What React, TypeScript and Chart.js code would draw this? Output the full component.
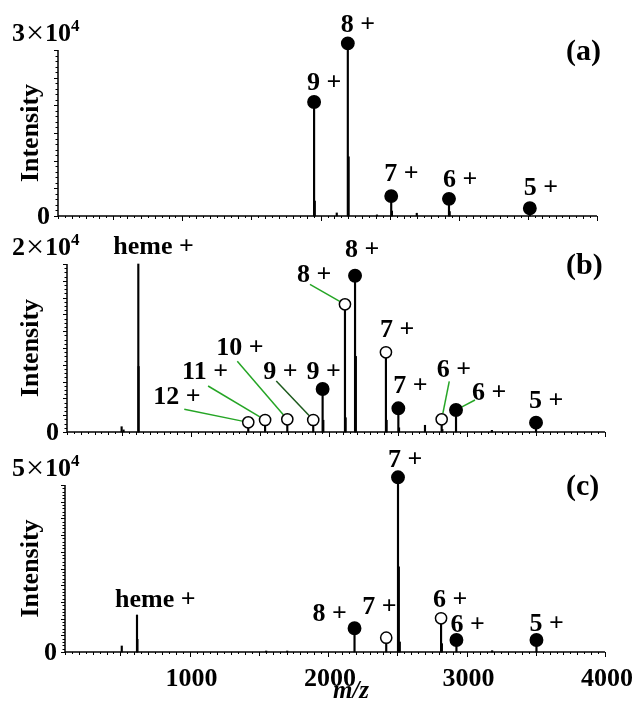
import React, { useEffect, useRef } from 'react';
import { Chart, registerables } from 'chart.js';

Chart.register(...registerables);

const FONT = '"Liberation Serif", "Times New Roman", serif';

// ---------------- Panel (a) data ----------------
const aHoloMz = [1953, 2197, 2511, 2929, 3514];
const aHoloIntensity = [20600, 31200, 3600, 3100, 1400];
const aHoloLabels = ['9 +', '8 +', '7 +', '6 +', '5 +'];
const aMinorMz = [1958, 2117, 2203, 2408, 2516, 2696, 2934];
const aMinorIntensity = [2700, 550, 10700, 200, 900, 500, 800];

// ---------------- Panel (b) data ----------------
const bHoloMz = [1953, 2188, 2502, 2920, 3500];
const bHoloIntensity = [5120, 18600, 2820, 2620, 1110];
const bHoloLabels = ['9 +', '8 +', '7 +', '6 +', '5 +'];
const bApoMz = [1414, 1536, 1697, 1885, 2115, 2412, 2816];
const bApoIntensity = [1150, 1430, 1510, 1430, 15200, 9490, 1510];
const bApoLabels = ['12 +', '11 +', '10 +', '9 +', '8 +', '7 +', '6 +'];
const bHemeMz = 617;
const bHemeIntensity = 20000;
const bMinorMz = [496, 510, 619, 1958, 2120, 2194, 2417, 2507, 2695, 2821, 3180];
const bMinorIntensity = [630, 250, 7800, 1400, 1700, 9000, 1400, 500, 800, 300, 200];

// ---------------- Panel (c) data ----------------
const cHoloMz = [2191, 2505, 2927, 3505];
const cHoloIntensity = [7100, 52300, 3590, 3590];
const cHoloLabels = ['8 +', '7 +', '6 +', '5 +'];
const cApoMz = [2420, 2816];
const cApoIntensity = [4280, 10090];
const cApoLabels = ['7 +', '6 +'];
const cHemeMz = 620;
const cHemeIntensity = 11080;
const cMinorMz = [510, 623, 1553, 1705, 2511, 2518, 2822, 3185];
const cMinorIntensity = [1800, 3800, 300, 300, 25500, 3000, 2500, 400];

// x-axis tick labels (panel c only)
const xTickLabels = [1000, 2000, 3000, 4000];

// ---------------- label layout (pixel offsets from marker to text left/middle) ----------------
const aHoloLayout = [
  { d: [-7, -19] }, { d: [-7, -18] }, { d: [-7, -22] }, { d: [-6, -19] }, { d: [-6, -20] },
];
const bHoloLayout = [
  { d: [-16, -17] }, { d: [-10, -25] }, { d: [-5, -22] }, { d: [16, -17], lead: [19, -10] }, { d: [-7, -21] },
];
const bApoLayout = [
  { d: [-95, -25], lead: [-64, -13] },
  { d: [-83, -48], lead: [-57, -34] },
  { d: [-71, -71], lead: [-50, -58] },
  { d: [-50, -48], lead: [-37, -39], dark: true },
  { d: [-48, -29], lead: [-35, -20] },
  { d: [-6, -22] },
  { d: [-5, -49], lead: [7.6, -38] },
];
const cHoloLayout = [{ d: [-42, -14] }, { d: [-10, -17] }, { d: [-6, -15] }, { d: [-7, -16] }];
const cApoLayout = [{ d: [-24, -30] }, { d: [-8, -18] }];

const panels = [
  {
    key: 'a', top: 0, height: 240,
    pad: { left: 58, right: 38, top: 50, bottom: 24 },
    yMax: 30000, yMinor: 1000, yMajor: 5000, mantissa: '3', letter: '(a)', xLabels: false,
    holo: { mz: aHoloMz, intensity: aHoloIntensity, labels: aHoloLabels, layout: aHoloLayout },
    apo: null, heme: null,
    minorMz: aMinorMz, minorIntensity: aMinorIntensity,
  },
  {
    key: 'b', top: 225, height: 240,
    pad: { left: 67, right: 30, top: 39, bottom: 33 },
    yMax: 20000, yMinor: 500, yMajor: 2000, mantissa: '2', letter: '(b)', xLabels: false,
    holo: { mz: bHoloMz, intensity: bHoloIntensity, labels: bHoloLabels, layout: bHoloLayout },
    apo: { mz: bApoMz, intensity: bApoIntensity, labels: bApoLabels, layout: bApoLayout },
    heme: { mz: bHemeMz, intensity: bHemeIntensity, d: [-25, -17] },
    minorMz: bMinorMz, minorIntensity: bMinorIntensity,
  },
  {
    key: 'c', top: 430, height: 278,
    pad: { left: 65, right: 30, top: 55, bottom: 56 },
    yMax: 50000, yMinor: 1000, yMajor: 5000, mantissa: '5', letter: '(c)', xLabels: true,
    holo: { mz: cHoloMz, intensity: cHoloIntensity, labels: cHoloLabels, layout: cHoloLayout },
    apo: { mz: cApoMz, intensity: cApoIntensity, labels: cApoLabels, layout: cApoLayout },
    heme: { mz: cHemeMz, intensity: cHemeIntensity, d: [-22, -15] },
    minorMz: cMinorMz, minorIntensity: cMinorIntensity,
  },
];

const HOLO_R = 6.2;
const APO_R = 5.6;

function makeDecor(cfg: any) {
  const groups = () => {
    const g: any[] = [];
    g.push({ ...cfg.holo, r: HOLO_R });
    if (cfg.apo) g.push({ ...cfg.apo, r: APO_R });
    return g;
  };
  return {
    id: 'decor_' + cfg.key,
    beforeDatasetsDraw(chart: any) {
      const { ctx, chartArea: ca, scales } = chart;
      const xs = scales.x;
      const ys = scales.y;
      ctx.save();
      ctx.strokeStyle = '#000';
      ctx.lineWidth = 1.5;
      ctx.beginPath();
      ctx.moveTo(ca.left, ca.top);
      ctx.lineTo(ca.left, ca.bottom);
      ctx.lineTo(ca.right, ca.bottom);
      ctx.stroke();
      ctx.lineWidth = 1;
      ctx.beginPath();
      for (let i = 2; i <= 80; i++) {
        const v = i * 50;
        const px = Math.round(xs.getPixelForValue(v)) + 0.5;
        const len = v % 1000 === 0 ? 5 : v % 500 === 0 ? 4 : v % 100 === 0 ? 3 : 2;
        ctx.moveTo(px, ca.bottom);
        ctx.lineTo(px, ca.bottom + len);
      }
      const n = Math.round(cfg.yMax / cfg.yMinor);
      const every = Math.round(cfg.yMajor / cfg.yMinor);
      for (let i = 0; i <= n; i++) {
        const v = i * cfg.yMinor;
        const py = Math.round(ys.getPixelForValue(v)) + 0.5;
        const len = i % every === 0 ? 4 : 2.5;
        ctx.moveTo(ca.left, py);
        ctx.lineTo(ca.left - len, py);
      }
      ctx.stroke();
      // leader lines
      for (const g of groups()) {
        g.mz.forEach((m: number, i: number) => {
          const lay = g.layout[i];
          if (!lay || !lay.lead) return;
          const mx = xs.getPixelForValue(m);
          const my = ys.getPixelForValue(g.intensity[i]);
          const sx = mx + lay.lead[0];
          const sy = my + lay.lead[1];
          const dx = sx - mx;
          const dy = sy - my;
          const dist = Math.hypot(dx, dy);
          const ex = mx + (dx / dist) * (g.r + 0.5);
          const ey = my + (dy / dist) * (g.r + 0.5);
          ctx.strokeStyle = lay.dark ? '#1d5a1d' : '#25a525';
          ctx.lineWidth = 1.5;
          ctx.beginPath();
          ctx.moveTo(sx, sy);
          ctx.lineTo(ex, ey);
          ctx.stroke();
        });
      }
      ctx.restore();
    },
    afterDatasetsDraw(chart: any) {
      const { ctx, chartArea: ca, scales } = chart;
      const xs = scales.x;
      const ys = scales.y;
      ctx.save();
      ctx.fillStyle = '#000';
      ctx.textBaseline = 'middle';
      ctx.textAlign = 'left';
      ctx.font = `bold 26px ${FONT}`;
      for (const g of groups()) {
        g.mz.forEach((m: number, i: number) => {
          const lay = g.layout[i];
          const mx = xs.getPixelForValue(m);
          const my = ys.getPixelForValue(g.intensity[i]);
          ctx.fillText(g.labels[i], mx + lay.d[0], my + lay.d[1]);
        });
      }
      if (cfg.heme) {
        const hx = xs.getPixelForValue(cfg.heme.mz);
        const hy = ys.getPixelForValue(cfg.heme.intensity);
        ctx.fillText('heme +', hx + cfg.heme.d[0], hy + cfg.heme.d[1]);
      }
      // zero label
      ctx.textAlign = 'right';
      ctx.fillText('0', ca.left - 8, ca.bottom + 1);
      // max label  N×10^4
      ctx.textAlign = 'left';
      let x = 12;
      const yl = ca.top - 16;
      ctx.fillText(cfg.mantissa, x, yl);
      x += ctx.measureText(cfg.mantissa).width + 1;
      ctx.font = `32px ${FONT}`;
      ctx.fillText('\u00d7', x, yl + 1);
      x += ctx.measureText('\u00d7').width + 1;
      ctx.font = `bold 26px ${FONT}`;
      ctx.fillText('10', x, yl);
      x += ctx.measureText('10').width;
      ctx.font = `bold 17px ${FONT}`;
      ctx.fillText('4', x, yl - 7);
      // panel letter
      ctx.font = `bold 30px ${FONT}`;
      ctx.fillText(cfg.letter, 566, ca.top + 2);
      // y axis title
      ctx.font = `bold 26px ${FONT}`;
      ctx.save();
      ctx.translate(31, (ca.top + ca.bottom) / 2);
      ctx.rotate(-Math.PI / 2);
      ctx.textAlign = 'center';
      ctx.fillText('Intensity', 0, 0);
      ctx.restore();
      if (cfg.xLabels) {
        ctx.textAlign = 'center';
        for (const t of xTickLabels) {
          ctx.fillText(String(t), xs.getPixelForValue(t) + 2, ca.bottom + 27);
        }
        ctx.font = `italic bold 25px ${FONT}`;
        ctx.fillText('m/z', 351, ca.bottom + 40);
      }
      ctx.restore();
    },
  };
}

function Panel({ cfg }: { cfg: any }) {
  const ref = useRef<HTMLCanvasElement>(null);
  useEffect(() => {
    const canvas = ref.current;
    if (!canvas) return;
    const pts = (mz: number[], it: number[]) => mz.map((m, i) => ({ x: m, y: it[i] }));
    const holoPts = pts(cfg.holo.mz, cfg.holo.intensity);
    const apoPts = cfg.apo ? pts(cfg.apo.mz, cfg.apo.intensity) : [];
    const hemePts = cfg.heme ? [{ x: cfg.heme.mz, y: cfg.heme.intensity }] : [];
    const sticks = [...holoPts, ...apoPts, ...hemePts, ...pts(cfg.minorMz, cfg.minorIntensity)];
    const chart = new Chart(canvas, {
      type: 'bar',
      data: {
        datasets: [
          {
            type: 'scatter',
            data: holoPts,
            pointRadius: HOLO_R,
            pointBackgroundColor: '#000',
            pointBorderColor: '#000',
            pointBorderWidth: 1.5,
            clip: false,
            order: 0,
          } as any,
          {
            type: 'scatter',
            data: apoPts,
            pointRadius: APO_R,
            pointBackgroundColor: '#fff',
            pointBorderColor: '#000',
            pointBorderWidth: 1.5,
            clip: false,
            order: 1,
          } as any,
          {
            type: 'bar',
            data: sticks,
            backgroundColor: '#000',
            barThickness: 1.5,
            grouped: false,
            clip: false,
            order: 2,
          } as any,
        ],
      },
      options: {
        animation: false,
        responsive: false,
        events: [],
        layout: { padding: cfg.pad },
        scales: {
          x: { type: 'linear', min: 100, max: 4000, offset: false, display: false },
          y: { type: 'linear', min: 0, max: cfg.yMax, display: false },
        },
        plugins: { legend: { display: false }, tooltip: { enabled: false } },
      } as any,
      plugins: [makeDecor(cfg)],
    });
    return () => chart.destroy();
  }, [cfg]);
  return (
    <canvas
      ref={ref}
      width={635}
      height={cfg.height}
      style={{ position: 'absolute', left: 0, top: cfg.top, width: 635, height: cfg.height }}
    />
  );
}

export default function App() {
  return (
    <div style={{ position: 'absolute', left: 0, top: 0, width: 635, height: 708, background: '#fff' }}>
      {panels.map((p) => (
        <Panel key={p.key} cfg={p} />
      ))}
    </div>
  );
}
